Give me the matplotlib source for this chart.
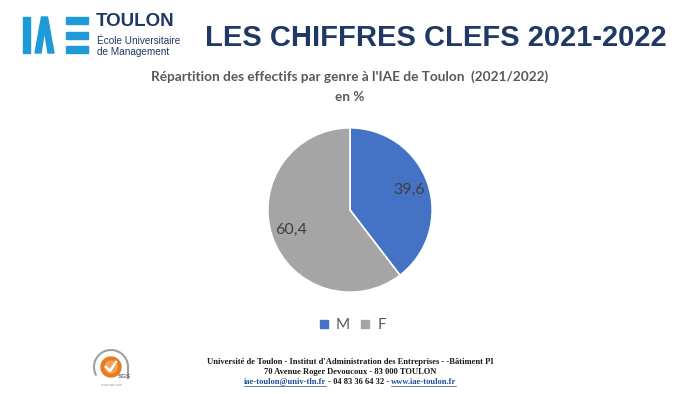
import matplotlib.pyplot as plt
import matplotlib.patches as mpatches
from matplotlib.lines import Line2D

# données
labels = ['M', 'F']
values = [39.6, 60.4]
colors = ['#4472C4', '#A5A5A5']

title = 'LES CHIFFRES CLEFS 2021-2022'
subtitle = "Répartition des effectifs par genre à l'IAE de Toulon  (2021/2022)"
subtitle2 = 'en %'
footer1 = "Université de Toulon - Institut d'Administration des Entreprises - -Bâtiment PI"
footer2 = '70 Avenue Roger Devoucoux - 83 000 TOULON'
footer3 = ['iae-toulon@univ-tln.fr', ' - 04 83 36 64 32 - ', 'www.iae-toulon.fr']

W, H = 700, 394
fig = plt.figure(figsize=(7, 3.94), dpi=100)
fig.patch.set_facecolor('white')


def fx(x):
    return x / W


def fy(y):
    return 1 - y / H


navy = '#1F3864'
logo_blue = '#1E9BD7'

# logo IAE (formes simples), axes en pixels
lg = fig.add_axes([0, 0, 1, 1], zorder=-1)
lg.set_xlim(0, W)
lg.set_ylim(H, 0)
lg.axis('off')
lg.add_patch(mpatches.Rectangle((23, 17), 7, 36, color=logo_blue))
lg.add_patch(mpatches.Polygon([(35, 53), (41.5, 17), (47.5, 17), (54, 53), (48, 53), (44.5, 31), (41, 53)],
                              color=logo_blue))
for yb in (17, 31.5, 46):
    lg.add_patch(mpatches.Rectangle((66, yb), 22, 7, color=logo_blue))

fig.text(fx(96), fy(22), 'TOULON', color=navy, fontsize=13.5, fontweight='bold',
         family='Liberation Sans', va='center', ha='left')
fig.text(fx(97), fy(41), 'École Universitaire', color=navy, fontsize=7.2,
         family='Liberation Sans', va='center', ha='left')
fig.text(fx(97), fy(52), 'de Management', color=navy, fontsize=7.2,
         family='Liberation Sans', va='center', ha='left')

# titre
fig.text(fx(436), fy(38), title, color=navy, fontsize=21, fontweight='bold',
         family='Liberation Sans', ha='center', va='center')

fig.text(fx(350), fy(77), subtitle, color='#595959', fontsize=9.8, fontweight='bold',
         family='Lato', ha='center', va='center')
fig.text(fx(350), fy(97), subtitle2, color='#595959', fontsize=9.8, fontweight='bold',
         family='Lato', ha='center', va='center')

# camembert
ax = fig.add_axes([fx(267), fy(293), 166 / W, 166 / H])
wedges, texts, autotexts = ax.pie(values, colors=colors, startangle=90, counterclock=False,
                                  autopct=lambda p: f'{p:.1f}'.replace('.', ','),
                                  pctdistance=0.76, radius=1,
                                  wedgeprops=dict(edgecolor='white', linewidth=1.2))
for t in autotexts:
    t.set_color('#404040')
    t.set_fontsize(11.5)
    t.set_family('Lato')
ax.set_xlim(-1.01, 1.01)
ax.set_ylim(-1.01, 1.01)
ax.set_aspect('equal')

handles = [Line2D([0], [0], marker='s', linestyle='', markersize=6, color=c) for c in colors]
fig.legend(handles, labels, loc='center', bbox_to_anchor=(fx(352), fy(325)), ncol=2,
           frameon=False, handlelength=0.8, handletextpad=0.4, columnspacing=0.6,
           prop={'family': 'Lato', 'size': 11}, labelcolor='#595959')

# pied de page
ft = dict(family='Liberation Serif', fontweight='bold', fontsize=6.1, color='#1a1a1a', ha='center', va='center')
fig.text(fx(350), fy(362), footer1, **ft)
fig.text(fx(350), fy(372), footer2, **ft)

fig.canvas.draw()
r = fig.canvas.get_renderer()
parts = []
for i, s in enumerate(footer3):
    c = '#1F4E9E' if i != 1 else '#1a1a1a'
    parts.append(fig.text(0, fy(382), s, family='Liberation Serif', fontweight='bold', fontsize=6.1,
                          color=c, ha='left', va='center'))
widths = [p.get_window_extent(r).width for p in parts]
x0 = 350 - sum(widths) / 2
for i, p in enumerate(parts):
    p.set_x(fx(x0))
    if i != 1:
        lg.plot([x0, x0 + widths[i]], [386, 386], color='#1F4E9E', lw=0.5)
    x0 += widths[i]

# logo SGS (approximation)
lg.add_patch(mpatches.Arc((111, 367), 34, 34, theta1=150, theta2=360, color='#a0a0a0', lw=1.5))
lg.add_patch(mpatches.Circle((111, 367), 10, color='#E97A1E'))
lg.add_patch(mpatches.Circle((111, 367), 6, color='#F3A25E'))
lg.plot([106, 110, 116], [367, 371, 362], color='white', lw=1.8)
lg.plot([128, 128], [367, 378], color='#a0a0a0', lw=1.5)
lg.text(124, 377, 'SGS', fontsize=4.5, color='#6d6d6d', family='Liberation Sans', fontweight='bold',
        ha='center', va='center')
lg.text(112, 385, 'www.sgs.com', fontsize=2.5, color='#9a9a9a', family='Liberation Sans',
        ha='center', va='center')

fig.savefig('out.png', dpi=100, facecolor='white')
